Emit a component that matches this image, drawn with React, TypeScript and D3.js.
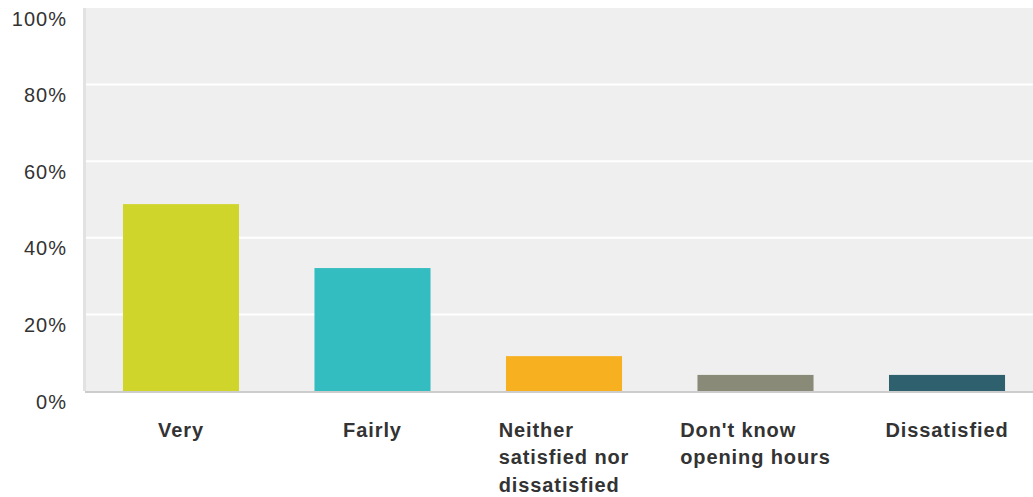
import React, { useEffect, useRef } from "react";
import * as d3 from "d3";

const categories: string[][] = [
  ["Very"],
  ["Fairly"],
  ["Neither", "satisfied nor", "dissatisfied"],
  ["Don't know", "opening hours"],
  ["Dissatisfied"],
];
const values: number[] = [48.8, 32.1, 9.1, 4.2, 4.2];
const colors: string[] = ["#cfd52a", "#33bdc0", "#f7b01f", "#8a8a78", "#2e606d"];
const yTicks: number[] = [0, 20, 40, 60, 80, 100];

const W = 1033;
const H = 497;

export default function App() {
  const ref = useRef<SVGSVGElement>(null);

  useEffect(() => {
    const svg = d3.select(ref.current);
    svg.selectAll("*").remove();

    const left = 86;
    const top = 8;
    const bottom = 391;

    const x = d3
      .scaleBand<number>()
      .domain(d3.range(categories.length))
      .range([left, 1042])
      .paddingInner(0.394)
      .paddingOuter(0.193);
    const y = d3.scaleLinear().domain([0, 100]).range([bottom, top]);

    // background
    svg.append("rect").attr("x", left).attr("y", top).attr("width", W - left).attr("height", bottom - top).attr("fill", "#efefef");
    svg.append("rect").attr("x", left - 3).attr("y", top).attr("width", 3).attr("height", bottom - top).attr("fill", "#e2e2e2");

    // gridlines
    svg
      .selectAll("line.grid")
      .data(yTicks.filter((t) => t > 0 && t < 100))
      .join("line")
      .attr("x1", left)
      .attr("x2", W)
      .attr("y1", (d) => y(d))
      .attr("y2", (d) => y(d))
      .attr("stroke", "#ffffff")
      .attr("stroke-width", 2);

    // tick labels
    svg
      .selectAll("text.ytick")
      .data(yTicks)
      .join("text")
      .attr("x", 67)
      .attr("y", (d) => y(d) + 17.5)
      .attr("text-anchor", "end")
      .attr("font-family", "Liberation Sans, Arial, sans-serif")
      .attr("font-size", 20)
      .attr("letter-spacing", 1)
      .attr("fill", "#333")
      .text((d) => `${d}%`);

    // bars
    svg
      .selectAll("rect.bar")
      .data(values)
      .join("rect")
      .attr("x", (_, i) => x(i)!)
      .attr("width", x.bandwidth())
      .attr("y", (d) => y(d))
      .attr("height", (d) => bottom - y(d))
      .attr("fill", (_, i) => colors[i]);

    // axis line
    svg.append("rect").attr("x", left - 1).attr("y", bottom).attr("width", W - left + 1).attr("height", 2).attr("fill", "#cccccc");

    // category labels
    categories.forEach((lines, i) => {
      const cx = x(i)! + x.bandwidth() / 2;
      const g = svg.append("text")
        .attr("font-family", "Liberation Sans, Arial, sans-serif")
        .attr("font-size", 20)
        .attr("font-weight", "bold")
        .attr("letter-spacing", 0.9)
        .attr("fill", "#333");
      lines.forEach((l, j) => {
        g.append("tspan").attr("x", 0).attr("y", 437 + j * 27.3).text(l);
      });
      const bb = (g.node() as SVGTextElement).getBBox();
      g.attr("transform", `translate(${cx - bb.width / 2},0)`);
    });
  }, []);

  return <svg ref={ref} width={W} height={H} style={{ display: "block", position: "absolute", left: 0, top: 0 }} />;
}
